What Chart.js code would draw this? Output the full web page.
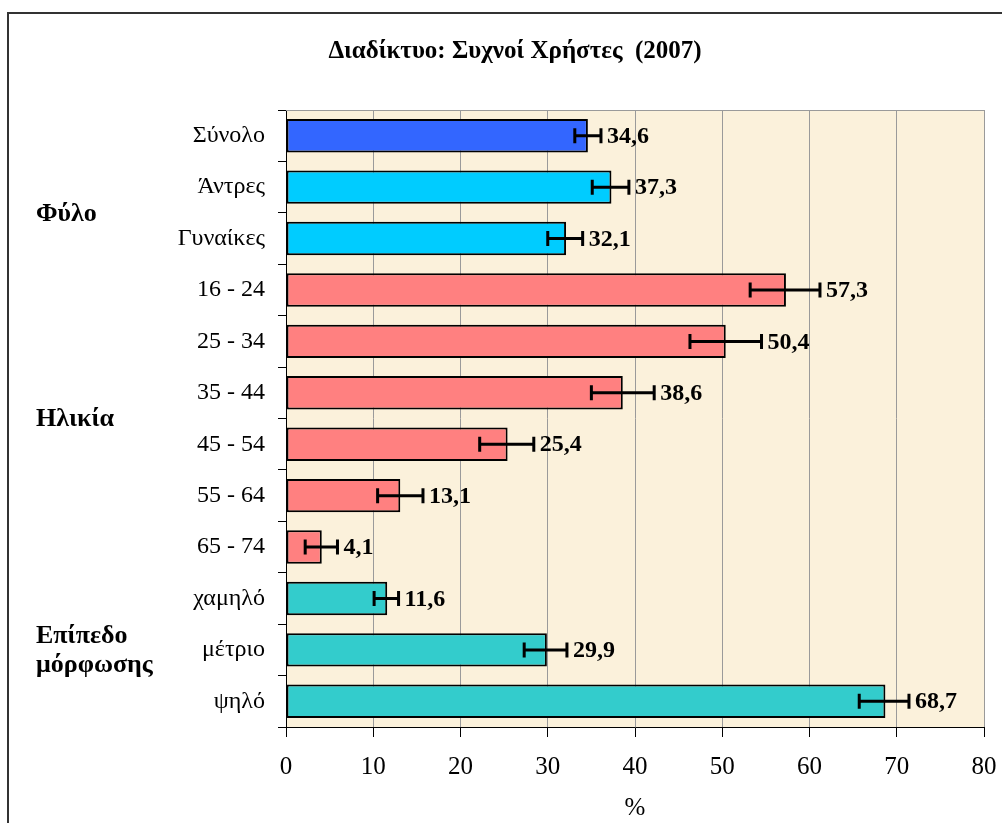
<!DOCTYPE html>
<html>
<head>
<meta charset="utf-8">
<script src="https://cdn.jsdelivr.net/npm/chart.js@4.4.1/dist/chart.umd.min.js"></script>
<style>
  html, body { margin: 0; padding: 0; background: #ffffff; }
  #wrap { width: 1002px; height: 823px; position: relative; }
</style>
</head>
<body>
<div id="wrap"><canvas id="c" width="1002" height="823"></canvas></div>
<script>
// ---- data ----
const chartTitle = 'Διαδίκτυο: Συχνοί Χρήστες  (2007)';
const categories = ['Σύνολο', 'Άντρες', 'Γυναίκες', '16 - 24', '25 - 34', '35 - 44', '45 - 54', '55 - 64', '65 - 74', 'χαμηλό', 'μέτριο', 'ψηλό'];
const values     = [34.6, 37.3, 32.1, 57.3, 50.4, 38.6, 25.4, 13.1, 4.1, 11.6, 29.9, 68.7];
const errLow     = [33.1, 35.1, 30.0, 53.2, 46.3, 35.0, 22.2, 10.5, 2.2, 10.1, 27.3, 65.7];
const errHigh    = [36.1, 39.3, 34.0, 61.2, 54.5, 42.2, 28.4, 15.7, 5.9, 12.9, 32.2, 71.4];
const groupOfBar = ['total', 'sex', 'sex', 'age', 'age', 'age', 'age', 'age', 'age', 'edu', 'edu', 'edu'];
const groupNames = ['Φύλο', 'Ηλικία', 'Επίπεδο\nμόρφωσης'];
const groupFirst = [1, 3, 9];
const groupLast  = [2, 8, 11];
const xTicks     = [0, 10, 20, 30, 40, 50, 60, 70, 80];
const xTitle     = '%';

// ---- styles ----
const groupColors = { total: '#3366FF', sex: '#00CCFF', age: '#FF8080', edu: '#33CCCC' };
const SERIF = '"Liberation Serif", "Times New Roman", serif';

const decorPlugin = {
  id: 'decor',
  beforeDraw(chart) {
    const { ctx, chartArea: a } = chart;
    ctx.save();
    ctx.fillStyle = '#ffffff';
    ctx.fillRect(0, 0, chart.width, chart.height);
    // outer frame (top + left visible)
    ctx.strokeStyle = '#333333';
    ctx.lineWidth = 2;
    ctx.beginPath();
    ctx.moveTo(8, chart.height + 2);
    ctx.lineTo(8, 13);
    ctx.lineTo(chart.width + 2, 13);
    ctx.stroke();
    // plot background
    ctx.fillStyle = '#FBF1DB';
    ctx.fillRect(a.left, a.top, a.right - a.left, a.bottom - a.top);
    ctx.restore();
  },
  beforeDatasetsDraw(chart) {
    const { ctx, chartArea: a } = chart;
    ctx.save();
    ctx.strokeStyle = '#9A9A9A';
    ctx.lineWidth = 1;
    ctx.beginPath();
    ctx.moveTo(a.left, a.top + 0.5);
    ctx.lineTo(a.right + 0.5, a.top + 0.5);
    ctx.lineTo(a.right + 0.5, a.bottom);
    ctx.stroke();
    ctx.restore();
  },
  afterDatasetsDraw(chart) {
    const { ctx } = chart;
    const xs = chart.scales.x, ys = chart.scales.y;
    ctx.save();
    // error bars
    ctx.strokeStyle = '#000000';
    ctx.lineWidth = 3;
    for (let i = 0; i < values.length; i++) {
      const y = ys.getPixelForValue(i);
      const x1 = xs.getPixelForValue(errLow[i]);
      const x2 = xs.getPixelForValue(errHigh[i]);
      ctx.beginPath();
      ctx.moveTo(x1, y); ctx.lineTo(x2, y);
      ctx.moveTo(x1, y - 7.5); ctx.lineTo(x1, y + 7.5);
      ctx.moveTo(x2, y - 7.5); ctx.lineTo(x2, y + 7.5);
      ctx.stroke();
    }
    // value labels
    ctx.fillStyle = '#000000';
    ctx.font = 'bold 24px ' + SERIF;
    ctx.textAlign = 'left';
    ctx.textBaseline = 'middle';
    for (let i = 0; i < values.length; i++) {
      const y = ys.getPixelForValue(i);
      const x2 = xs.getPixelForValue(errHigh[i]);
      ctx.fillText(values[i].toFixed(1).replace('.', ','), x2 + 6, y + 1);
    }
    // group labels
    ctx.font = 'bold 26px ' + SERIF;
    for (let g = 0; g < groupNames.length; g++) {
      const yc = (ys.getPixelForValue(groupFirst[g]) + ys.getPixelForValue(groupLast[g])) / 2;
      const lines = groupNames[g].split('\n');
      const lh = 29;
      lines.forEach((ln, k) => {
        ctx.fillText(ln, 36, yc + 1 + (k - (lines.length - 1) / 2) * lh);
      });
    }
    // chart title
    ctx.textAlign = 'center';
    ctx.font = 'bold 25px ' + SERIF;
    ctx.fillText(chartTitle, 515, 52);
    ctx.restore();
  }
};

new Chart(document.getElementById('c'), {
  type: 'bar',
  data: {
    labels: categories,
    datasets: [{
      data: values,
      backgroundColor: groupOfBar.map(g => groupColors[g]),
      borderColor: '#000000',
      borderWidth: 2,
      borderSkipped: false,
      categoryPercentage: 1.0,
      barPercentage: 0.65
    }]
  },
  options: {
    indexAxis: 'y',
    responsive: false,
    animation: false,
    devicePixelRatio: 1,
    layout: { padding: { top: 110, right: 18, left: 0, bottom: 0 } },
    plugins: {
      legend: { display: false },
      title: { display: false },
      tooltip: { enabled: false }
    },
    scales: {
      x: {
        type: 'linear',
        min: 0, max: 80,
        afterBuildTicks(scale) { scale.ticks = xTicks.map(v => ({ value: v })); },
        afterFit(scale) { scale.height = 96; scale.paddingLeft = 0; scale.paddingRight = 0; },
        grid: {
          color: '#9A9A9A', lineWidth: 1, tickColor: '#000000', tickLength: 10, drawTicks: true
        },
        border: { display: true, color: '#000000', width: 1 },
        ticks: { color: '#000000', padding: 15, font: { family: SERIF, size: 25 } },
        title: {
          display: true, text: xTitle, color: '#000000',
          font: { family: SERIF, size: 25 }, padding: { top: 0, bottom: 0 }
        }
      },
      y: {
        afterFit(scale) { scale.width = 286; scale.paddingTop = 0; scale.paddingBottom = 0; },
        grid: { drawOnChartArea: false, tickColor: '#000000', tickLength: 8, offset: true },
        border: { display: true, color: '#000000', width: 1 },
        ticks: { color: '#000000', padding: 13, font: { family: SERIF, size: 24 } }
      }
    }
  },
  plugins: [decorPlugin]
});
</script>
</body>
</html>
